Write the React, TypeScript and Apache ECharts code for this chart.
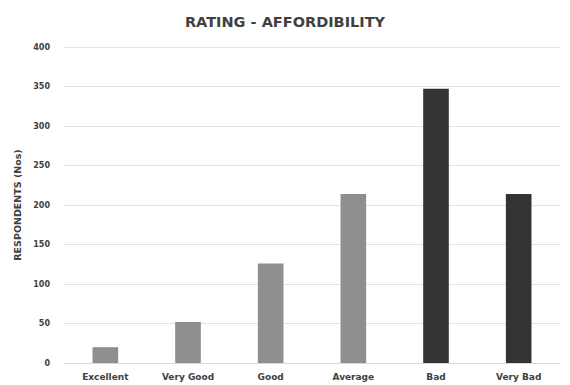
import React, { useEffect, useRef } from "react";
import * as echarts from "echarts";

const categories = ["Excellent", "Very Good", "Good", "Average", "Bad", "Very Bad"];
const respondents = [20, 52, 126, 214, 347, 214];
const barColors = ["#8f8f8f", "#8f8f8f", "#8f8f8f", "#8f8f8f", "#333333", "#333333"];
const yTicks = [0, 50, 100, 150, 200, 250, 300, 350, 400];

const FONT = "DejaVu Sans";

export default function App() {
  const ref = useRef<HTMLDivElement>(null);
  useEffect(() => {
    if (!ref.current) return;
    const chart = echarts.init(ref.current, undefined, { renderer: "svg" });
    chart.setOption({
      animation: false,
      backgroundColor: "#ffffff",
      title: {
        text: "RATING - AFFORDIBILITY",
        left: "center",
        top: 9,
        textStyle: { fontFamily: FONT, fontWeight: "bold", fontSize: 14.5, color: "#404040" },
      },
      grid: { left: 64, right: 10, top: 47, bottom: 22 },
      xAxis: {
        type: "category",
        data: categories,
        axisLine: { lineStyle: { color: "#d9d9d9" } },
        axisTick: { show: false },
        axisLabel: { fontFamily: FONT, fontWeight: "bold", fontSize: 9, color: "#404040", margin: 9 },
      },
      yAxis: {
        type: "value",
        min: yTicks[0],
        max: yTicks[yTicks.length - 1],
        interval: 50,
        name: "RESPONDENTS (Nos)",
        nameLocation: "middle",
        nameGap: 40,
        nameTextStyle: { fontFamily: FONT, fontWeight: "bold", fontSize: 9.5, color: "#404040" },
        axisLine: { show: false },
        axisTick: { show: false },
        splitLine: { lineStyle: { color: "#e3e3e3" } },
        axisLabel: { fontFamily: FONT, fontWeight: "bold", fontSize: 8, color: "#404040", margin: 14 },
      },
      series: [
        {
          type: "bar",
          barWidth: "31%",
          data: respondents.map((v, i) => ({ value: v, itemStyle: { color: barColors[i] } })),
        },
      ],
    });
    return () => chart.dispose();
  }, []);
  return (
    <div
      ref={ref}
      style={{ position: "fixed", left: 0, top: 0, width: 570, height: 385, overflow: "hidden" }}
    />
  );
}
